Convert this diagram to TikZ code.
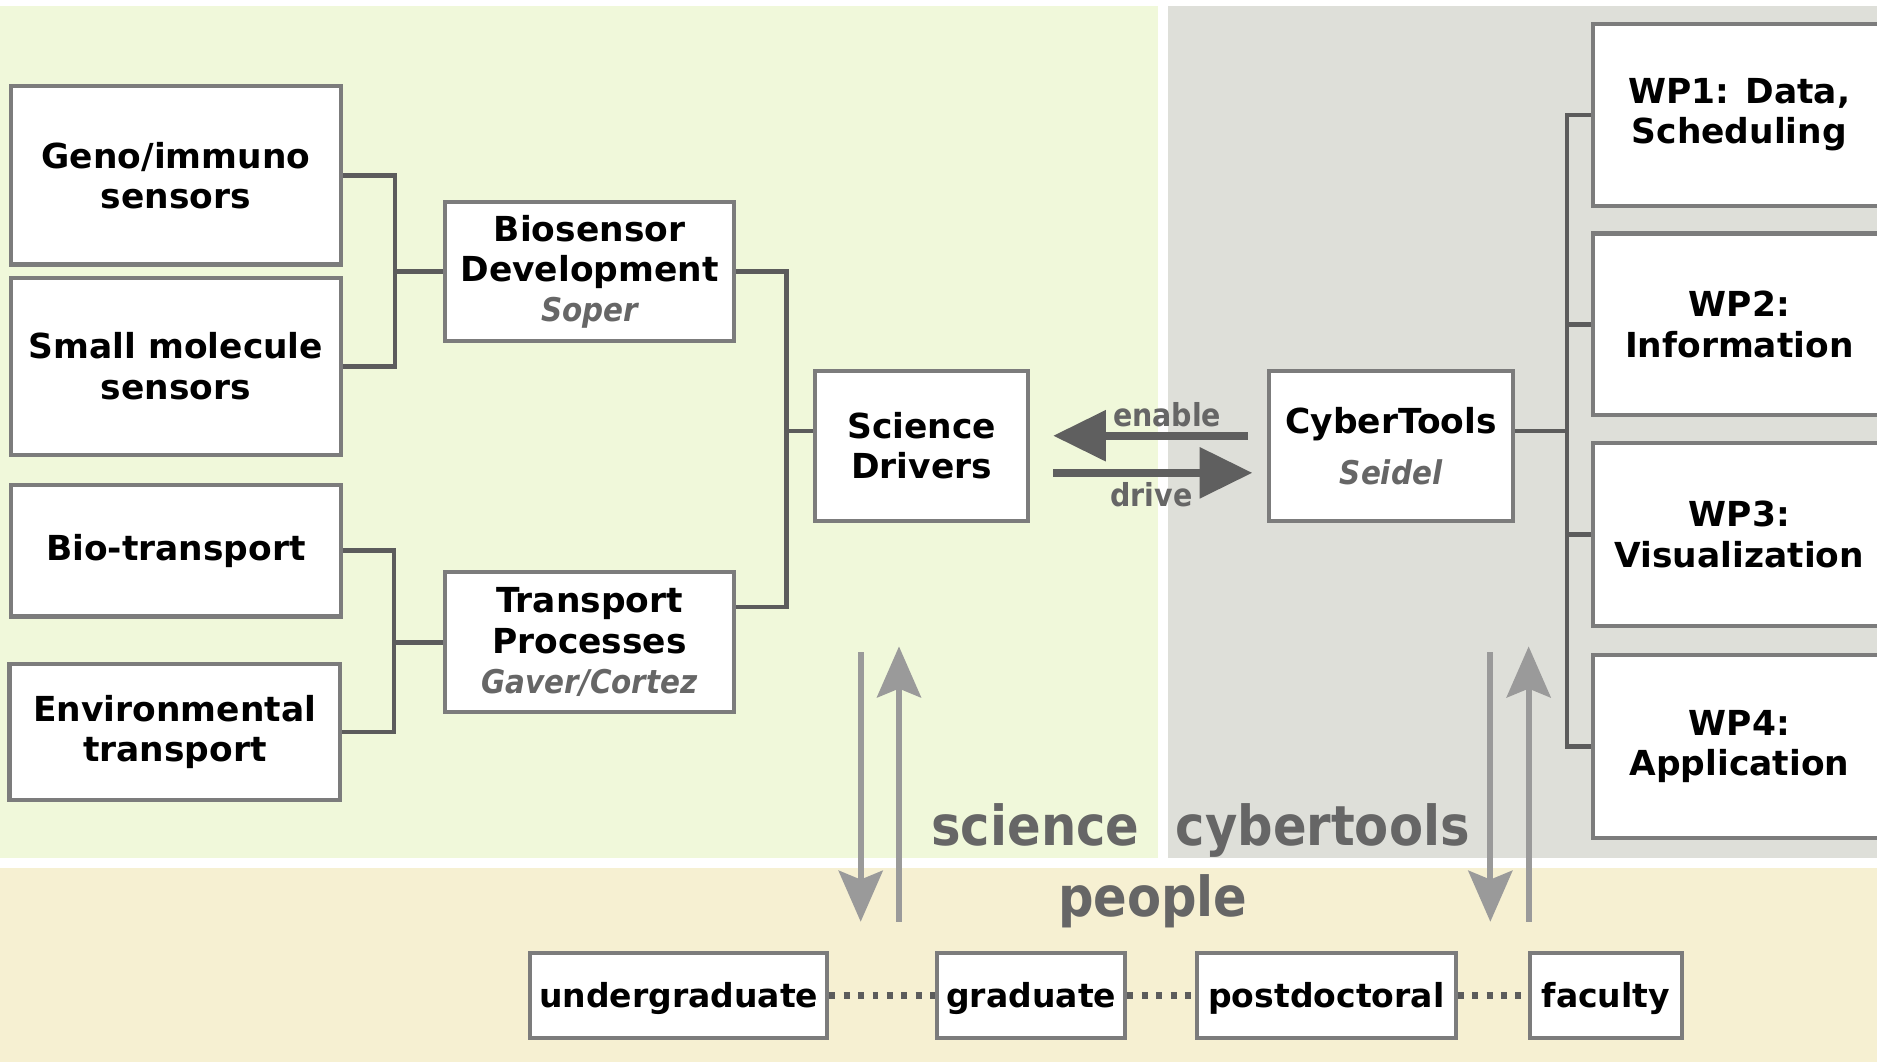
\documentclass[tikz,border=0pt]{standalone}
\usepackage{fontspec}
\setmainfont{DejaVu Sans}
\newfontfamily\cond{DejaVu Sans Condensed}
\usetikzlibrary{arrows.meta,calc}
\newdimen\ux \ux=0.34061pt
\definecolor{bggreen}{HTML}{F0F8DA}
\definecolor{bggray}{HTML}{DEDFD9}
\definecolor{bgbeige}{HTML}{F6F0D2}
\definecolor{boxgray}{HTML}{7C7C7C}
\definecolor{conngray}{HTML}{5C5C5C}
\definecolor{arrgray}{HTML}{5F5F5F}
\definecolor{vgray}{HTML}{9A9A9A}
\definecolor{labgray}{HTML}{666666}
\newcommand{\nm}[1]{{\cond\bfseries\itshape\fontsize{9.3}{11}\selectfont\color{labgray}#1}}
\tikzset{
  box/.style={draw=boxgray, line width=1.2pt, fill=white, align=center, inner sep=0pt,
    font=\bfseries\fontsize{9.8}{11.5}\selectfont},
  pbox/.style={box, font=\bfseries\fontsize{9.4}{11}\selectfont, text depth=0pt},
  sz/.style 2 args={minimum width=#1*\ux, minimum height=#2*\ux},
  conn/.style={draw=conngray, line width=1.3pt},
  bigarr/.style={draw=arrgray, line width=2.4pt, -{Triangle[length=15pt,width=14pt]}},
  varr/.style={draw=vgray, line width=1.7pt, -{Stealth[length=14.5pt,width=12.5pt,inset=2.5pt]}},
  dots/.style={draw=conngray, line width=2pt, dash pattern=on 1.7pt off 2.4pt},
  small lab/.style={text=labgray, font=\cond\bfseries\fontsize{9}{11}\selectfont, inner sep=0pt, anchor=base},
  big lab/.style={text=labgray, font=\cond\bfseries\fontsize{15.7}{18}\selectfont, inner sep=0pt, anchor=base}
}
\begin{document}
\begin{tikzpicture}[x=0.34061pt, y=-0.34061pt]
\useasboundingbox (0,0) rectangle (1568,887);
\fill[white] (0,0) rectangle (1568,887);
\fill[bggreen] (0,5) rectangle (967,717);
\fill[bggray] (976,5) rectangle (1568,717);
\fill[bgbeige] (0,725) rectangle (1568,887);

% left column
\node[box, sz={276}{149}] (geno) at (147,146.5) {Geno/immuno\\sensors};
\node[box, sz={276}{148}] (small) at (147,306) {Small molecule\\sensors};
\node[box, sz={276}{110}] (biot) at (147,460) {Bio-transport};
\node[box, sz={276}{113}] (env) at (146,611.5) {Environmental\\transport};

% middle column
\node[box, sz={241}{116}] (bios) at (492.5,227) {Biosensor\\Development\\\nm{Soper}};
\node[box, sz={241}{117}] (trans) at (492.5,536.5) {Transport\\Processes\\\nm{Gaver/Cortez}};

\node[box, sz={178}{125}] (sd) at (770,372.5) {Science\\Drivers};
\node[box, sz={204}{125}] (cyber) at (1162,372.5) {CyberTools\\[3pt]\nm{Seidel}};

% WP column
\node[box, sz={244}{152}] (wp1) at (1453,96) {WP1: Data,\\Scheduling};
\node[box, sz={244}{152}] (wp2) at (1453,271) {WP2:\\Information};
\node[box, sz={244}{153}] (wp3) at (1453,446.5) {WP3:\\Visualization};
\node[box, sz={244}{153}] (wp4) at (1453,623.5) {WP4:\\Application};

% people
\node[pbox, sz={248}{71}] (ug) at (567,831.5) {undergraduate};
\node[pbox, sz={157}{71}] (gr) at (861.5,831.5) {graduate};
\node[pbox, sz={216}{71}] (pd) at (1108,831.5) {postdoctoral};
\node[pbox, sz={127}{71}] (fa) at (1341.5,831.5) {faculty};

% brackets
\coordinate (j1) at (330,227);
\draw[conn] (geno.east) -| (j1) |- (small.east);
\draw[conn] (j1) -- (bios.west);
\coordinate (j2) at (329,536.5);
\draw[conn] (biot.east) -| (j2) |- (env.east);
\draw[conn] (j2) -- (trans.west);
\coordinate (j3) at (657,360);
\draw[conn] (bios.east) -| (j3) |- ($(trans.east)+(0,-29.5)$);
\draw[conn] (j3) -- ($(sd.west)+(0,-12.5)$);
\coordinate (j4) at (1309,360);
\draw[conn] ($(cyber.east)+(0,-12.5)$) -- (j4);
\draw[conn] (wp1.west) -| (j4) |- (wp4.west);
\draw[conn] (wp2.west) -- (wp2.west -| j4);
\draw[conn] (wp3.west) -- (wp3.west -| j4);

% enable / drive
\draw[bigarr, shorten <=16*\ux, shorten >=19*\ux] ($(cyber.west)+(0,-8.5)$) -- ($(sd.east)+(0,-8.5)$);
\draw[bigarr, shorten <=19*\ux, shorten >=12*\ux] ($(sd.east)+(0,22.5)$) -- ($(cyber.west)+(0,22.5)$);
\node[small lab] (en) at (975,356) {enable};
\node[small lab] (dr) at (962,423) {drive};

% vertical arrows
\coordinate (a1s) at (719,545); \coordinate (a1e) at (719,770);
\coordinate (a2s) at (751,770); \coordinate (a2e) at (751,540);
\coordinate (a3s) at (1245,545); \coordinate (a3e) at (1245,770);
\coordinate (a4s) at (1277,770); \coordinate (a4e) at (1277,540);
\draw[varr] (a1s) -- (a1e);
\draw[varr] (a2s) -- (a2e);
\draw[varr] (a3s) -- (a3e);
\draw[varr] (a4s) -- (a4e);

% big labels
\node[big lab] (sci) at (865,706) {science};
\node[big lab] (cyb) at (1105,706) {cybertools};
\node[big lab] (peo) at (963,766) {people};

% dotted links
\draw[dots] (ug.east) -- (gr.west);
\draw[dots] (gr.east) -- (pd.west);
\draw[dots] (pd.east) -- (fa.west);
\end{tikzpicture}
\end{document}
